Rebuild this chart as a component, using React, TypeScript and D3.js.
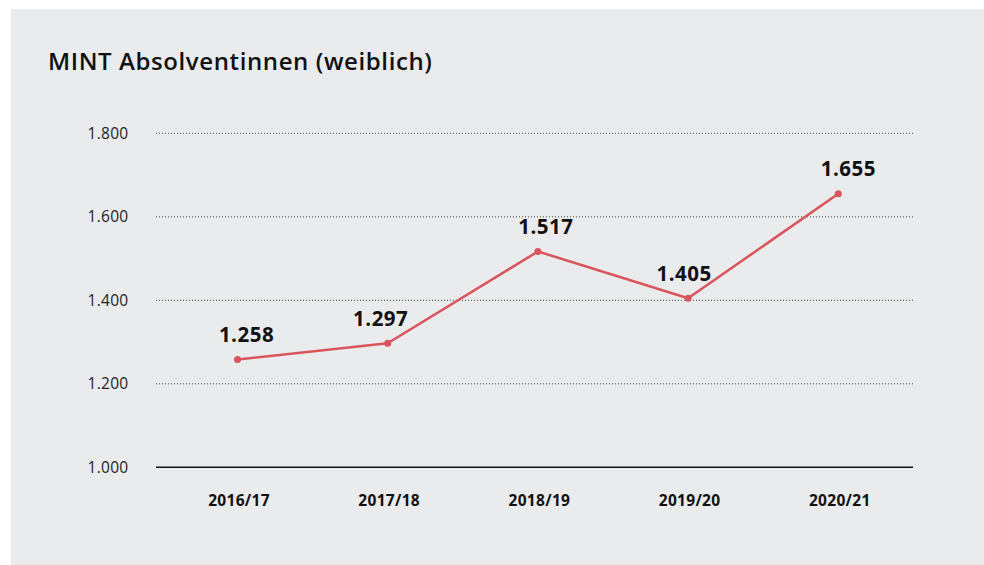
import React from "react";
import * as d3 from "d3";

const title = "MINT Absolventinnen (weiblich)";
const categories = ["2016/17", "2017/18", "2018/19", "2019/20", "2020/21"];
const values = [1258, 1297, 1517, 1405, 1655];
const valueLabels = ["1.258", "1.297", "1.517", "1.405", "1.655"];
const yTicks = [1000, 1200, 1400, 1600, 1800];
const yTickLabels = ["1.000", "1.200", "1.400", "1.600", "1.800"];

// label nudges (style, not data)
const labelDx = [9, -7, 8, -4, 10];

const W = 984;
const H = 565;
const FONT = "'Open Sans', Lato, sans-serif";
const RED = "#d9545b";

export default function App() {
  const x = d3.scalePoint<string>().domain(categories).range([237.5, 838.3]);
  const y = d3.scaleLinear().domain([1000, 1800]).range([467.3, 133.3]);
  const line = d3
    .line<number>()
    .x((_, i) => x(categories[i]) as number)
    .y((d) => y(d));

  return (
    <svg
      width={W}
      height={H}
      style={{ position: "absolute", top: 0, left: 0 }}
      fontFamily={FONT}
    >
      <rect x={0} y={0} width={W} height={H} fill="#ffffff" />
      <rect x={11} y={9} width={W - 11} height={H - 9} fill="#eaebed" />
      <text x={48} y={70} fontSize={24} fontWeight={600} letterSpacing={0.6} fill="#111">
        {title}
      </text>
      {yTicks.map((t, i) => (
        <g key={t}>
          {i > 0 && (
            <line
              x1={156}
              x2={913}
              y1={y(t)}
              y2={y(t)}
              stroke="#444"
              strokeWidth={1}
              strokeDasharray="1,2"
            />
          )}
          <text
            x={128.5}
            y={y(t)}
            dy="0.35em"
            textAnchor="end"
            fontSize={15.5}
            letterSpacing={0.3}
            fill="#222"
          >
            {yTickLabels[i]}
          </text>
        </g>
      ))}
      <line x1={156} x2={913} y1={y(1000)} y2={y(1000)} stroke="#111" strokeWidth={1.5} />
      {categories.map((c) => (
        <text
          key={c}
          x={(x(c) as number) + 1.5}
          y={506}
          textAnchor="middle"
          fontSize={15.5}
          fontWeight={700}
          letterSpacing={0.3}
          fill="#111"
        >
          {c}
        </text>
      ))}
      <path d={line(values) || ""} fill="none" stroke={RED} strokeWidth={2.5} strokeLinejoin="round" />
      {values.map((v, i) => (
        <g key={i}>
          <circle cx={x(categories[i]) as number} cy={y(v)} r={3.5} fill={RED} />
          <text
            x={(x(categories[i]) as number) + labelDx[i]}
            y={y(v) - 17.5}
            textAnchor="middle"
            fontSize={20.5}
            fontWeight={700}
            letterSpacing={0.5}
            fill="#111"
          >
            {valueLabels[i]}
          </text>
        </g>
      ))}
    </svg>
  );
}
